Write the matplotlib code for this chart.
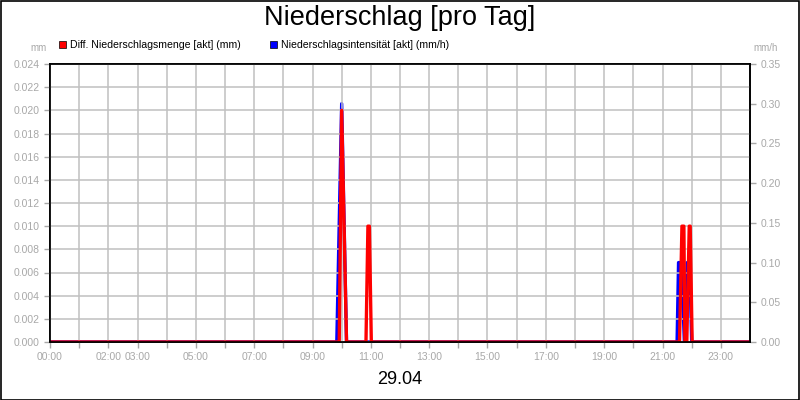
import numpy as np
import matplotlib.pyplot as plt
from matplotlib.patches import Rectangle

plt.rcParams['font.family'] = ['Liberation Sans', 'DejaVu Sans']

# Diff. Niederschlagsmenge (mm), left axis
red_times = ["00:00", "09:55", "10:00", "10:10", "10:50", "10:54", "10:57", "11:01",
             "21:35", "21:40", "21:44", "21:46", "21:50", "21:55", "21:57", "22:01", "24:00"]
red_vals = [0, 0, 0.020, 0, 0, 0.010, 0.010, 0,
            0, 0.010, 0.010, 0, 0, 0.010, 0.010, 0, 0]

# Niederschlagsintensitaet (mm/h), right axis
blue_times = ["00:00", "09:50", "10:00", "10:10",
              "21:30", "21:33", "21:39", "21:45", "21:48", "21:51", "21:56", "22:00", "24:00"]
blue_vals = [0, 0, 0.30, 0,
             0, 0.10, 0.10, 0, 0, 0.10, 0.10, 0, 0]

x_labels = ["00:00", "", "02:00", "03:00", "", "05:00", "", "07:00", "", "09:00", "",
            "11:00", "", "13:00", "", "15:00", "", "17:00", "", "19:00", "", "21:00", "",
            "23:00"]
left_ticks = np.arange(0, 0.0241, 0.002)
right_ticks = np.arange(0, 0.351, 0.05)

title = "Niederschlag [pro Tag]"
date_label = "29.04"
red_name = "Diff. Niederschlagsmenge [akt] (mm)"
blue_name = "Niederschlagsintensität [akt] (mm/h)"


def to_hours(times):
    out = []
    for t in times:
        h, m = t.split(":")
        out.append(int(h) + int(m) / 60)
    return np.array(out)


grey = '#a8a8a8'
W, H = 800, 400
fig = plt.figure(figsize=(8, 4), dpi=100)
fig.patch.set_facecolor('white')
fig.patches.append(Rectangle((0.5 / W, 0.5 / H), 1 - 1.5 / W, 1 - 1.5 / H, transform=fig.transFigure,
                             fill=False, edgecolor='black', lw=1.2))

ax = fig.add_axes([50 / W, 1 - 342 / H, 700 / W, 278 / H])
ax2 = ax.twinx()

ax.set_xlim(0, 24)
ax.set_ylim(0, 0.024)
ax2.set_ylim(0, 0.35)

ax.set_xticks(range(24))
ax.set_xticklabels(x_labels)
ax.set_yticks(left_ticks)
ax.set_yticklabels([f"{v:.3f}" for v in left_ticks])
ax2.set_yticks(right_ticks)
ax2.set_yticklabels([f"{v:.2f}" for v in right_ticks])

ax.grid(True, color='#c0c0c0', lw=1.1)
ax.set_axisbelow(True)
for a in (ax, ax2):
    a.tick_params(colors=grey, labelcolor=grey, labelsize=7.5, length=4, width=1)
    for s in a.spines.values():
        s.set_color('black')
        s.set_linewidth(1.2)
        s.set_zorder(5)

ax2.plot(to_hours(blue_times), blue_vals, color='#0000ff', lw=2.4, zorder=3)
ax.set_zorder(ax2.get_zorder() + 1)
ax.patch.set_visible(False)
ax.plot(to_hours(red_times), red_vals, color='#ff0000', lw=2.4, zorder=3)

fig.text(0.5, 1 - 18 / H, title, ha='center', va='center', fontsize=19.5)
fig.text(0.5, 1 - 379 / H, date_label, ha='center', va='center', fontsize=13)
fig.text(47 / W, 1 - 48 / H, "mm", ha='right', va='center', fontsize=7, color=grey)
fig.text(753 / W, 1 - 48 / H, "mm/h", ha='left', va='center', fontsize=7, color=grey)

for x0, col, name in [(59, '#ff0000', red_name), (270, '#0000ff', blue_name)]:
    fig.patches.append(Rectangle((x0 / W, 1 - 48 / H), 7 / W, 7 / H, transform=fig.transFigure,
                                 facecolor=col, edgecolor='black', lw=0.5))
    fig.text((x0 + 11) / W, 1 - 44.5 / H, name, ha='left', va='center', fontsize=7.6)

fig.savefig('out.png', dpi=100)
